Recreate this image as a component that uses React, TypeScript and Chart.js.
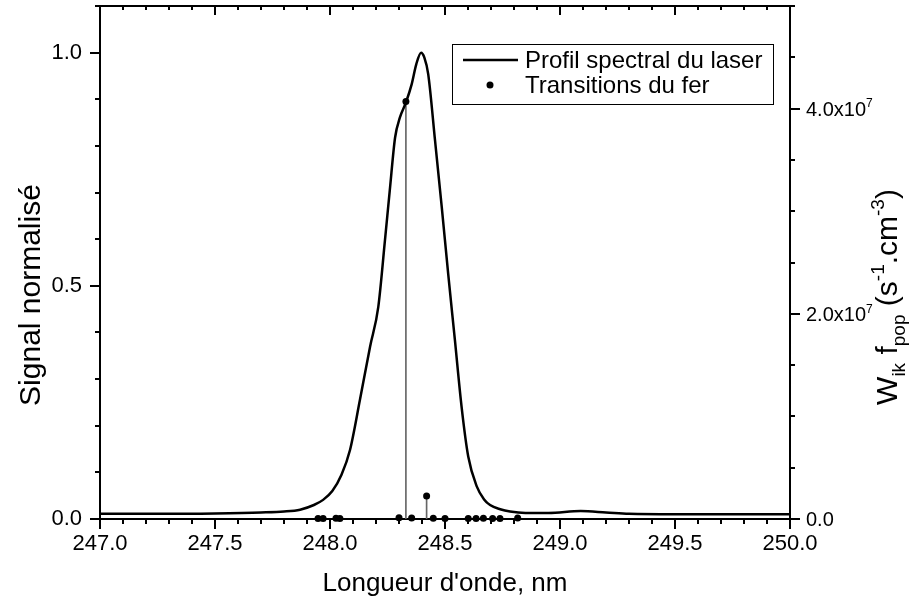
import React, { useEffect, useRef } from "react";
import { Chart, registerables } from "chart.js";

Chart.register(...registerables);

// ---- data ----
const LASER_LABEL = "Profil spectral du laser";
const TRANS_LABEL = "Transitions du fer";

const laserWavelength = [
  247.0, 247.3, 247.5, 247.7, 247.8, 247.87, 247.93, 247.97, 248.01, 248.05,
  248.087, 248.13, 248.174, 248.21, 248.239, 248.26, 248.283, 248.304, 248.33,
  248.355, 248.375, 248.396, 248.41, 248.427, 248.457, 248.486, 248.514, 248.543,
  248.572, 248.601, 248.638, 248.67, 248.696, 248.74, 248.783, 248.85, 248.95,
  249.09, 249.2, 249.3, 249.5, 249.75, 250.0,
];
const laserSignal = [
  0.011, 0.011, 0.012, 0.014, 0.016, 0.02, 0.03, 0.041, 0.06, 0.095,
  0.148, 0.255, 0.369, 0.455, 0.598, 0.705, 0.818, 0.861, 0.893,
  0.932, 0.975, 1.0, 0.99, 0.954, 0.81, 0.668, 0.525, 0.384,
  0.241, 0.134, 0.07, 0.042, 0.03, 0.021, 0.016, 0.013, 0.013,
  0.017, 0.014, 0.011, 0.01, 0.01, 0.01,
];

const transitionWavelength = [
  247.948, 247.97, 248.026, 248.043, 248.3, 248.33, 248.355, 248.42, 248.449,
  248.5, 248.601, 248.635, 248.667, 248.707, 248.739, 248.816,
];
const transitionRate = [
  6e4, 5e4, 7e4, 4e4, 1.2e5, 4.07e7, 9e4, 2.24e6, 8e4,
  5e4, 6e4, 4e4, 7e4, 5e4, 6e4, 9e4,
];

const xTickLabels = ["247.0", "247.5", "248.0", "248.5", "249.0", "249.5", "250.0"];
const leftTickLabels = ["0.0", "0.5", "1.0"];
const rightTickValues = [0, 2e7, 4e7];

const X_MIN = 247, X_MAX = 250, X_MINOR = 0.1, X_MAJOR_EVERY = 5;
const Y_MAX = 1.1, Y_MINOR = 0.1, Y_MAJOR_EVERY = 5;
const Y2_MAX = 5e7, Y2_MINOR = 0.5e7, Y2_MAJOR_EVERY = 4;

const FONT = '"Liberation Sans", Arial, Helvetica, sans-serif';
const TICK_FONT = 22;
const RIGHT_TICK_FONT = 20;
const X_TITLE_FONT = 26;
const Y_TITLE_FONT = 30;
const LEGEND_FONT = 24;

type Seg = { t: string; k: "n" | "sub" | "sup" };

function drawRich(ctx: CanvasRenderingContext2D, segs: Seg[], size: number, x: number, y: number, align: "left" | "center") {
  const small = Math.round(size * 0.62);
  let total = 0;
  const widths = segs.map((s) => {
    ctx.font = `${s.k === "n" ? size : small}px ${FONT}`;
    const w = ctx.measureText(s.t).width;
    total += w;
    return w;
  });
  let cx = align === "center" ? x - total / 2 : x;
  ctx.textBaseline = "alphabetic";
  ctx.textAlign = "left";
  segs.forEach((s, i) => {
    ctx.font = `${s.k === "n" ? size : small}px ${FONT}`;
    const dy = s.k === "sub" ? size * 0.25 : s.k === "sup" ? -size * 0.42 : 0;
    ctx.fillText(s.t, cx, y + dy);
    cx += widths[i];
  });
}

const decorPlugin = {
  id: "decor",
  beforeDatasetsDraw(chart: any) {
    const { ctx, chartArea: a, scales } = chart;
    const x = scales.x, y = scales.y, y2 = scales.y2;
    ctx.save();
    ctx.strokeStyle = "#000";
    ctx.lineWidth = 2;
    ctx.strokeRect(a.left, a.top, a.right - a.left, a.bottom - a.top);
    ctx.beginPath();
    const nx = Math.round((X_MAX - X_MIN) / X_MINOR);
    for (let i = 0; i <= nx; i++) {
      const px = Math.round(x.getPixelForValue(X_MIN + i * X_MINOR));
      const major = i % X_MAJOR_EVERY === 0;
      ctx.moveTo(px, a.bottom);
      ctx.lineTo(px, a.bottom + (major ? 10 : 5));
      ctx.moveTo(px, a.top);
      ctx.lineTo(px, a.top + (major ? 9 : 4));
    }
    const ny = Math.round(Y_MAX / Y_MINOR);
    for (let i = 0; i <= ny; i++) {
      const py = Math.round(y.getPixelForValue(i * Y_MINOR));
      const major = i % Y_MAJOR_EVERY === 0;
      ctx.moveTo(a.left, py);
      ctx.lineTo(a.left - (major ? 10 : 5), py);
    }
    const ny2 = Math.round(Y2_MAX / Y2_MINOR);
    for (let i = 0; i <= ny2; i++) {
      const py = Math.round(y2.getPixelForValue(i * Y2_MINOR));
      const major = i % Y2_MAJOR_EVERY === 0;
      ctx.moveTo(a.right, py);
      ctx.lineTo(a.right + (major ? 10 : 5), py);
    }
    ctx.stroke();
    ctx.restore();
  },
  afterDraw(chart: any) {
    const { ctx, chartArea: a, scales } = chart;
    const y2 = scales.y2;
    ctx.save();
    ctx.fillStyle = "#000";
    // right tick labels
    rightTickValues.forEach((v) => {
      const py = y2.getPixelForValue(v);
      const base = py + RIGHT_TICK_FONT * 0.36;
      if (v === 0) {
        drawRich(ctx, [{ t: "0.0", k: "n" }], RIGHT_TICK_FONT, a.right + 16, base, "left");
      } else {
        const exp = Math.floor(Math.log10(v));
        const m = (v / Math.pow(10, exp)).toFixed(1);
        drawRich(ctx, [{ t: `${m}x10`, k: "n" }, { t: `${exp}`, k: "sup" }], RIGHT_TICK_FONT, a.right + 16, base, "left");
      }
    });
    // x title
    drawRich(ctx, [{ t: "Longueur d'onde, nm", k: "n" }], X_TITLE_FONT, (a.left + a.right) / 2, 591, "center");
    // left title
    ctx.save();
    ctx.translate(40, 295);
    ctx.rotate(-Math.PI / 2);
    drawRich(ctx, [{ t: "Signal normalisé", k: "n" }], Y_TITLE_FONT, 0, 0, "center");
    ctx.restore();
    // right title
    ctx.save();
    ctx.translate(897, 297);
    ctx.rotate(-Math.PI / 2);
    drawRich(
      ctx,
      [
        { t: "W", k: "n" },
        { t: "ik", k: "sub" },
        { t: " f", k: "n" },
        { t: "pop", k: "sub" },
        { t: " (s", k: "n" },
        { t: "-1", k: "sup" },
        { t: ".cm", k: "n" },
        { t: "-3", k: "sup" },
        { t: ")", k: "n" },
      ],
      Y_TITLE_FONT,
      0,
      0,
      "center"
    );
    ctx.restore();
    // legend
    const lx = 452.5, ly = 44.5, lw = 321, lh = 60;
    ctx.fillStyle = "#fff";
    ctx.fillRect(lx, ly, lw, lh);
    ctx.strokeStyle = "#000";
    ctx.lineWidth = 1;
    ctx.strokeRect(lx, ly, lw, lh);
    const ds = chart.data.datasets;
    ctx.lineWidth = 2.5;
    ctx.beginPath();
    ctx.moveTo(463, 60);
    ctx.lineTo(518, 60);
    ctx.stroke();
    ctx.fillStyle = "#000";
    ctx.beginPath();
    ctx.arc(490, 85, 3.5, 0, Math.PI * 2);
    ctx.fill();
    ctx.font = `${LEGEND_FONT}px ${FONT}`;
    ctx.textBaseline = "middle";
    ctx.textAlign = "left";
    ctx.fillText(ds[0].label, 525, 61);
    ctx.fillText(ds[2].label, 525, 86);
    ctx.restore();
  },
};

export default function App() {
  const ref = useRef<HTMLCanvasElement | null>(null);
  useEffect(() => {
    if (!ref.current) return;
    const chart = new Chart(ref.current, {
      type: "scatter",
      data: {
        datasets: [
          {
            type: "line",
            label: LASER_LABEL,
            data: laserWavelength.map((x, i) => ({ x, y: laserSignal[i] })),
            borderColor: "#000",
            borderWidth: 2.5,
            pointRadius: 0,
            cubicInterpolationMode: "monotone",
            yAxisID: "y",
            order: 2,
          } as any,
          {
            type: "bar",
            label: "stems",
            data: transitionWavelength.map((x, i) => ({ x, y: transitionRate[i] })),
            backgroundColor: "#666",
            barThickness: 1,
            grouped: false,
            yAxisID: "y2",
            order: 3,
          } as any,
          {
            type: "scatter",
            label: TRANS_LABEL,
            data: transitionWavelength.map((x, i) => ({ x, y: transitionRate[i] })),
            backgroundColor: "#000",
            borderColor: "#000",
            pointRadius: 3.5,
            borderWidth: 0,
            yAxisID: "y2",
            clip: false,
            order: 1,
          } as any,
        ],
      },
      options: {
        animation: false,
        responsive: false,
        devicePixelRatio: 1,
        layout: { padding: { top: 6, left: 0, right: 0, bottom: 0 } },
        plugins: { legend: { display: false }, tooltip: { enabled: false } },
        scales: {
          x: {
            type: "linear",
            min: X_MIN,
            max: X_MAX,
            offset: false,
            grid: { display: false, drawTicks: false },
            border: { display: false },
            ticks: {
              stepSize: 0.5,
              includeBounds: false,
              maxRotation: 0,
              autoSkip: false,
              padding: 12,
              color: "#000",
              font: { family: FONT, size: TICK_FONT },
              callback: (v: any) => {
                const i = Math.round((Number(v) - X_MIN) / 0.5);
                return xTickLabels[i] ?? "";
              },
            },
            afterFit: (s: any) => {
              s.height = 79;
              s.paddingLeft = 0;
              s.paddingRight = 0;
            },
          },
          y: {
            type: "linear",
            position: "left",
            min: 0,
            max: Y_MAX,
            grid: { display: false, drawTicks: false },
            border: { display: false },
            ticks: {
              stepSize: 0.5,
              includeBounds: false,
              padding: 18,
              color: "#000",
              font: { family: FONT, size: TICK_FONT },
              callback: (v: any) => {
                const i = Math.round(Number(v) / 0.5);
                return leftTickLabels[i] ?? "";
              },
            },
            afterFit: (s: any) => {
              s.width = 100;
              s.paddingTop = 0;
              s.paddingBottom = 0;
            },
          },
          y2: {
            type: "linear",
            position: "right",
            min: 0,
            max: Y2_MAX,
            grid: { display: false, drawTicks: false },
            border: { display: false },
            ticks: { display: false },
            afterFit: (s: any) => {
              s.width = 119;
              s.paddingTop = 0;
              s.paddingBottom = 0;
            },
          },
        },
      },
      plugins: [decorPlugin],
    });
    return () => chart.destroy();
  }, []);
  return (
    <div style={{ position: "absolute", left: 0, top: 0, width: 909, height: 598, background: "#fff" }}>
      <canvas ref={ref} width={909} height={598} style={{ width: 909, height: 598 }} />
    </div>
  );
}
